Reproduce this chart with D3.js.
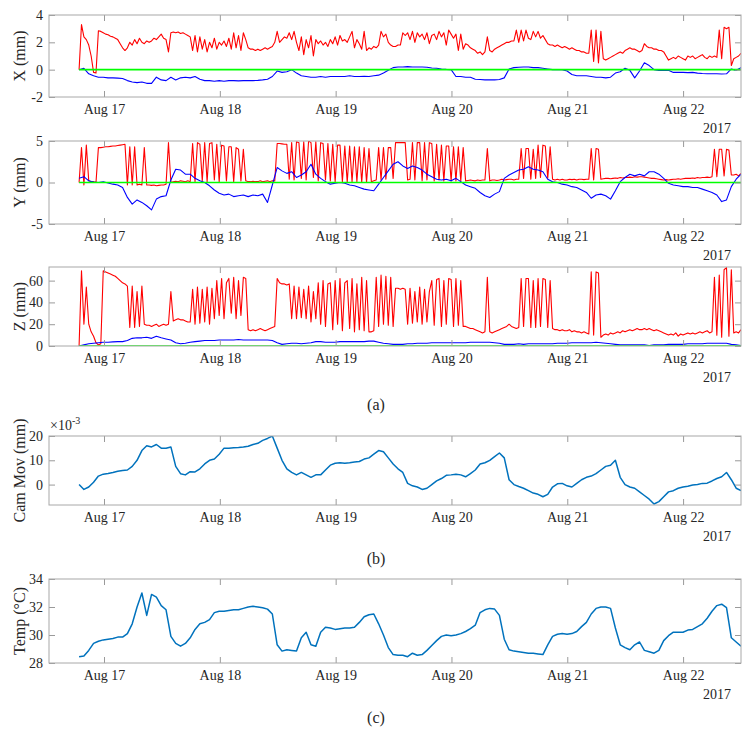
<!DOCTYPE html>
<html>
<head>
<meta charset="utf-8" />
<script src="https://cdn.jsdelivr.net/npm/d3@7"></script>
<style>
  body { margin: 0; background: #fff; }
  text { font-family: "Liberation Serif", "DejaVu Serif", serif; fill: #262626; }
</style>
</head>
<body>
<script>
// ---- data ----
// red/blue/green traces of (a) : red at 30 min steps, blue at 1 h steps,
// all running from Aug 16 18:50 to Aug 22 12:00
var xRed = [0.0, 3.3, 2.4, 2.2, 1.8, 1.0, -0.2, -0.25, 2.85, 2.8,
  2.7, 2.6, 2.55, 2.45, 2.4, 2.3, 2.2, 1.9, 1.6, 1.4,
  1.6, 2.0, 1.8, 2.2, 1.9, 2.3, 2.0, 1.9, 2.1, 2.0,
  2.1, 2.3, 2.2, 2.4, 2.6, 2.3, 2.2, 1.3, 2.7, 2.75,
  2.7, 2.75, 2.65, 2.7, 2.6, 2.5, 2.4, 1.4, 2.5, 1.3,
  2.4, 1.5, 2.2, 1.3, 2.0, 1.6, 2.3, 1.5, 2.0, 1.8, 2.1, 1.7, 2.3, 1.5, 2.7, 1.6, 2.5, 1.4, 2.7, 2.2,
  1.6, 1.5, 1.5, 1.4, 1.5, 1.4, 1.5, 1.6, 1.5, 1.6,
  1.7, 2.0, 2.8, 2.0, 2.2, 2.4, 2.3, 2.7, 2.2, 2.8,
  2.0, 1.4, 2.4, 1.1, 2.2, 1.6, 2.5, 1.0, 2.2, 1.9, 2.1, 1.8, 2.0, 1.7, 2.2, 1.9, 2.4, 1.8, 2.5, 2.1,
  2.2, 2.0, 2.4, 2.8, 1.6, 2.2, 1.9, 1.5, 2.8, 1.4, 1.6, 1.5, 1.7, 1.6,
  1.8, 2.8, 2.4, 2.6, 2.0, 1.8, 1.7, 1.7, 1.8, 1.8, 2.7, 2.5,
  2.7, 2.2, 2.8, 2.0, 2.7, 2.4, 2.6, 2.2, 2.7, 1.9, 2.5, 2.6, 2.2, 2.8, 2.4, 2.7, 1.8, 2.9, 2.6, 2.3,
  2.6, 1.4, 2.6, 1.5, 1.9, 1.8, 1.6, 1.5, 1.4, 1.2, 1.3, 1.1, 1.3, 2.4,
  1.4, 1.3, 1.5, 1.6, 1.7, 1.8, 1.9, 2.0, 2.0, 2.1,
  2.1, 2.9, 2.0, 2.9, 2.1, 2.9, 2.3, 2.2, 2.8, 2.4, 2.8, 2.3, 2.5, 2.2,
  1.9, 1.8, 1.8, 1.7, 1.8, 1.7, 1.6, 1.7, 1.6, 1.5, 1.6, 1.5, 1.4, 1.4, 1.3, 1.3, 1.2, 1.2,
  2.9, 0.6, 2.9, 0.5, 2.8, 0.8,
  0.7, 0.8, 0.9, 1.0, 1.1, 1.2, 1.3, 1.2, 1.4, 1.5, 1.6, 1.5, 1.5, 1.4, 1.3, 1.4,
  1.9, 1.7, 1.6, 1.6, 1.5, 1.5, 1.4, 1.4, 1.3, 1.0, 0.7,
  0.8, 0.9, 0.8, 1.0, 0.9, 0.8, 0.7, 1.0, 0.9, 1.0, 0.8, 0.9, 1.0, 1.1, 0.9, 0.8, 1.0, 0.9, 1.0, 0.9,
  2.9, 0.8, 3.1, 3.0, 3.1, 0.3,
  0.8, 0.9, 1.0, 1.2];

var xBlue = [0.0, 0.1, -0.3, -0.45, -0.55, -0.55, -0.6, -0.6, -0.62, -0.65,
  -0.8, -0.9, -0.95, -0.9, -1.0, -1.0, -0.55, -0.75, -0.8, -0.55,
  -0.75, -0.6, -0.55, -0.6, -0.5, -0.7, -0.8, -0.8, -0.85, -0.8,
  -0.85, -0.8, -0.8, -0.82, -0.8, -0.8, -0.8, -0.78, -0.75, -0.7,
  -0.5, -0.1, -0.2, -0.15, 0.0, -0.25, -0.45, -0.5, -0.55, -0.55,
  -0.5, -0.55, -0.5, -0.5, -0.5, -0.5, -0.45, -0.5, -0.5, -0.48,
  -0.5, -0.45, -0.4, -0.25, -0.05, 0.15, 0.2, 0.2, 0.22, 0.2,
  0.2, 0.2, 0.18, 0.12, 0.1, 0.05, 0.02, 0.0, -0.5, -0.5,
  -0.55, -0.55, -0.7, -0.72, -0.75, -0.75, -0.75, -0.72, -0.6, 0.05,
  0.15, 0.18, 0.2, 0.2, 0.15, 0.15, 0.1, 0.05, 0.0, 0.0,
  0.0, -0.1, -0.35, -0.45, -0.45, -0.45, -0.5, -0.55, -0.55, -0.6,
  -0.55, -0.25, -0.15, 0.1, -0.05, -0.6, -0.1, 0.5, 0.3, 0.0,
  -0.05, -0.05, -0.05, -0.2, -0.2, -0.2, -0.22, -0.2, -0.25, -0.28,
  -0.3, -0.3, -0.3, -0.32, -0.3, 0.05, -0.05, 0.15];

var yRed = [0.0, 4.2, -0.3, 4.5, 0.2, 0.1, 0.1, 0.0,
  4.2, 4.2, 4.25, 4.3, 4.3, 4.35, 4.4, 4.4, 4.45, 4.5, 4.55, 4.6,
  -0.3, 4.3, -0.3, 4.3, -0.3, -0.2, -0.3, 4.2, -0.3,
  -0.3, -0.35, -0.3, -0.4, -0.35, -0.3, -0.3, -0.2,
  4.8,
  0.0, 0.1, 0.15, 0.1, 0.2, 0.15, 0.1, 0.2, 0.1,
  4.7, 0.1, 4.8, 4.6, 0.2, 4.8, 0.1, 4.7, 4.8, 0.3, 4.6, 0.1, 4.5, 4.4, 0.2, 4.3, 4.3, 0.1, 4.2, 4.0, 0.2, 4.0, 0.2,
  0.1, 0.1, 0.15, 0.1, 0.1, 0.2, 0.1, 0.15, 0.2, 0.1, 0.2, 0.2,
  4.7, 4.7, 4.65, 4.6,
  4.6, 0.4, 4.8, 0.3, 4.9, 4.8, 0.5, 4.9, 0.3, 5.0, 4.8, 0.6, 4.9, 0.2, 4.8, 4.7, 0.3, 4.7, 0.2, 4.6,
  0.1, 4.5, 4.5, 0.1, 4.4, 0.0, 4.4, 0.1, 4.3, 0.1, 4.3, 0.0, 4.2, 0.0, 4.1,
  0.1, 0.2,
  0.3, 4.2, 0.3, 4.2, 0.4, 4.2, 4.2, 0.5,
  4.8, 4.8, 4.8, 4.8, 4.8,
  0.3, 0.4, 4.8, 0.3, 4.8, 4.8, 0.2, 4.8, 0.3, 4.8, 4.7, 0.2, 4.6, 0.3, 4.5, 0.2, 4.4, 4.4, 0.2, 4.3, 0.2, 4.3, 0.2, 4.2,
  0.2, 0.25, 0.3, 0.25, 0.2, 0.3, 0.25, 0.3, 0.3,
  4.1,
  0.2, 0.3, 0.3, 0.25, 0.3, 0.4, 0.3, 0.35, 0.4, 0.4, 0.3, 0.4, 0.4,
  4.1, 0.5, 4.1, 4.1, 0.4, 4.0,
  0.5, 4.5, 0.6, 4.5, 4.4, 0.5, 4.3,
  0.4, 0.3, 0.4, 0.3, 0.4, 0.3, 0.3, 0.4, 0.35, 0.4, 0.3, 0.4, 0.4, 0.35, 0.4, 0.4,
  4.1, 0.3, 4.1, 4.0,
  0.4, 0.45, 0.5, 0.5, 0.45, 0.5, 0.55, 0.5, 0.6, 0.55, 0.6, 0.6, 0.65, 0.6, 0.7, 0.65, 0.7, 0.7, 0.65, 0.6,
  0.55, 0.5, 0.5, 0.45, 0.4, 0.35, 0.3, 0.35, 0.3, 0.35, 0.4, 0.4, 0.45, 0.4, 0.45, 0.5, 0.5, 0.5, 0.55, 0.5,
  0.6, 0.55, 0.6, 0.6, 0.65, 0.6, 0.7,
  4.0, 0.7, 4.0, 4.0, 0.8, 4.0, 3.9, 0.9,
  0.9, 1.0, 0.8, 1.1];

var yBlue = [0.5, 0.7, 0.2, 0.05, 0.0, 0.1, -0.05, -0.2, -0.3, -0.6,
  -1.8, -2.6, -2.1, -2.4, -2.8, -3.3, -2.0, -1.7, -1.6, 0.3,
  1.6, 1.5, 1.0, 1.0, 0.5, 0.2, 0.0, -0.4, -0.9, -1.3,
  -1.5, -1.4, -1.7, -1.6, -1.5, -1.7, -1.5, -1.6, -1.4, -2.4,
  -0.3, 1.8, 1.4, 1.1, 1.3, 0.6, 0.9, 1.3, 2.2, 1.0,
  0.5, 0.1, -0.2, -0.1, 0.0, -0.1, -0.3, -0.4, -0.6, -0.8,
  -0.9, -1.0, -0.2, 0.6, 1.4, 2.2, 2.5, 2.0, 1.7, 2.0,
  1.8, 1.5, 1.0, 0.7, 0.4, 0.3, 0.4, 0.2, 0.5, 0.1,
  -0.3, -0.5, -0.7, -1.2, -1.6, -1.8, -1.4, -1.1, 0.5, 0.9,
  1.2, 1.5, 1.6, 1.9, 1.6, 1.5, 1.3, 0.4, 0.1, 0.0,
  -0.2, -0.3, -0.5, -0.6, -0.9, -1.2, -1.9, -1.5, -1.4, -1.6,
  -2.0, -1.0, 0.1, 0.6, 1.0, 0.8, 1.0, 0.8, 1.3, 1.3,
  1.0, 0.5, -0.1, -0.3, -0.4, -0.5, -0.5, -0.6, -0.6, -0.8,
  -1.0, -1.2, -1.5, -2.3, -2.1, -0.5, 0.4, 1.0];

var zRed = [0, 69, 20, 54, 20, 13, 9, 3, 1, 2,
  69, 68, 67, 66, 65, 64, 62, 60, 58, 57, 55,
  17, 55, 17, 50, 18, 55, 20, 19,
  19, 18, 19, 20, 18, 19, 20, 19, 20,
  50,
  23, 24, 25, 24, 24, 23, 22, 22,
  52, 20, 54, 21, 52, 22, 54, 20, 53,
  25, 60, 28, 62, 25, 58, 62, 30, 63, 25, 60, 28, 63, 62,
  15, 14, 15, 14, 15, 16, 15, 14, 15, 16, 17, 18,
  62, 58, 57, 57, 56, 57,
  25, 55, 25, 54, 26, 52, 25, 55, 22, 50, 25,
  58, 20, 60, 18, 57, 58, 15, 60, 20, 62, 14, 58, 60, 16, 62, 13, 57, 15, 63, 14, 60, 13, 13,
  14,
  63, 18, 65, 20, 64, 19, 63, 18, 53,
  53, 52, 53, 52,
  20, 53, 21, 50, 22, 54, 20, 52, 22, 50,
  60, 19, 61, 62, 18, 60, 20, 62, 61, 18, 62, 19, 60, 18,
  18, 17, 16, 16, 15, 14, 13, 12, 13,
  63,
  13, 12, 13, 14, 15, 16, 17, 18, 20, 18, 17, 16, 17,
  62, 18, 62, 62, 17, 60,
  17, 62, 18, 62, 61, 17, 60,
  16, 15, 15, 14, 15, 14, 14, 15, 13, 14, 13, 13, 12, 13, 12, 11,
  68, 10, 68, 67,
  8, 10, 11, 10, 12, 11, 12, 13, 12, 14, 13, 14, 15, 14, 15, 16, 15, 15, 16, 15,
  16, 15, 14, 15, 14, 13, 12, 11, 10, 11, 10, 12, 9, 11, 10, 11, 12, 11, 12, 11,
  12, 13, 12, 13, 14, 12, 13,
  63, 10, 65, 8, 70, 72, 9, 70,
  12, 13, 12, 15];

var zBlue = [0, 1, 2, 2.5, 3, 3.5, 3.5, 3.8, 4, 4, 5, 7, 7.5, 7.5, 8, 7, 9, 7.5, 6.5, 5.5,
  3, 2, 2.5, 3.5, 4, 4.5, 5, 5, 5, 5.5, 5.5, 5.5, 5.5, 6, 5.5, 5.5, 5.5, 5.5, 5.5, 5.5,
  5, 3, 1.5, 2, 2.5, 2.5, 2, 2.5, 3, 4, 4, 3.5, 3.5, 3.5, 4, 4, 4, 4, 4, 4,
  4.5, 4.5, 3.5, 2.5, 2, 1.5, 1.5, 1.5, 2, 2, 2.5, 2.5, 2.5, 3, 3, 3, 3, 3, 3, 3,
  3, 3.5, 3.5, 3.5, 3.5, 3.5, 3, 2.5, 1.5, 1.5, 1.5, 2, 1.5, 2, 2, 2, 2, 2, 2, 2.5,
  2.5, 2.5, 3, 3, 3, 3, 3, 3.5, 3, 2.5, 2, 1.5, 1, 1, 1, 1, 1, 1, 0.5, 1,
  1, 1, 1.5, 1.5, 1.5, 1.5, 2, 2, 2, 2, 2.5, 2.5, 2.5, 2.5, 2.5, 1.5, 1, 0.5];

// the flat reference trace (green) of each panel in (a)
var zeroRef = [0, 0];

// (b) camera movement, x10^-3 mm, hourly
var camMov = [0, -2, -1, 1, 3.5, 4.3, 4.6, 5, 5.5, 5.8,
  6, 7.5, 10, 14, 16, 15.5, 16.5, 15, 15, 15.5,
  7.5, 4.5, 4, 5.3, 5.2, 6.5, 8.5, 10, 10.5, 12.5,
  15, 15, 15.2, 15.3, 15.5, 15.8, 16.5, 17, 18.2, 19,
  20, 15, 10, 6.5, 5, 4, 5, 4, 3, 4,
  4, 6, 8, 8.8, 9, 8.8, 9, 9.3, 9.5, 10.5,
  11, 12.5, 14, 13.5, 11, 8.5, 6.5, 5, 0.5, -0.5,
  -1, -2, -1.5, 0, 1.5, 2.5, 3.8, 4, 4.3, 4,
  3.2, 4.5, 6, 8.5, 9, 10, 11.5, 13, 11, 2,
  0, -0.8, -1.5, -2.5, -3.5, -4, -5, -4, -1, 0.3,
  0.5, -0.5, -1, 0.5, 2, 3, 3.5, 4.5, 6, 7.5,
  8, 10, 3, 0, -1, -1.5, -3, -4.5, -6, -8,
  -7, -5, -3, -2.5, -1.5, -1, -0.7, -0.2, 0, 0.5,
  0.6, 1.5, 2.5, 3.2, 5, 2, -1.5, -2.5];

// (c) temperature, deg C, hourly
var temp = [28.45, 28.5, 28.9, 29.4, 29.55, 29.65, 29.7, 29.75, 29.85, 29.85,
  30.1, 30.8, 32.0, 33.0, 31.4, 32.9, 32.7, 32.1, 31.8, 29.9,
  29.4, 29.2, 29.4, 29.8, 30.4, 30.8, 30.9, 31.1, 31.6, 31.7,
  31.7, 31.75, 31.8, 31.8, 31.9, 32.0, 32.05, 32.0, 31.95, 31.85,
  31.5, 29.3, 28.85, 28.95, 28.9, 28.85, 29.8, 30.2, 29.3, 29.2,
  30.2, 30.55, 30.5, 30.4, 30.45, 30.5, 30.5, 30.55, 30.9, 31.3,
  31.45, 31.5, 30.8, 30.0, 29.1, 28.6, 28.55, 28.55, 28.45, 28.7,
  28.55, 28.6, 28.9, 29.25, 29.6, 29.9, 30.0, 29.95, 30.0, 30.1,
  30.25, 30.45, 30.7, 31.6, 31.8, 31.9, 31.85, 31.4, 29.7, 28.95,
  28.85, 28.8, 28.75, 28.7, 28.7, 28.65, 28.6, 29.3, 29.9, 30.05,
  30.1, 30.05, 30.1, 30.25, 30.6, 30.9, 31.5, 31.9, 32.0, 32.0,
  31.9, 30.5, 29.3, 29.1, 28.95, 29.3, 29.5, 28.9, 28.8, 28.7,
  28.9, 29.6, 29.95, 30.2, 30.2, 30.2, 30.35, 30.4, 30.6, 30.8,
  31.2, 31.7, 32.1, 32.2, 31.95, 29.8, 29.5, 29.2];

var dayTicks = [17, 18, 19, 20, 21, 22];

// ---- drawing ----
var svg = d3.select("body").append("svg")
  .attr("width", 752)
  .attr("height", 737);

var left = 49, right = 741;
var x = d3.scaleTime()
  .domain([new Date(2017, 7, 16, 12, 36), new Date(2017, 7, 22, 12, 0)])
  .range([left, right]);

// every trace is spread evenly over the recorded span
var dataStart = new Date(2017, 7, 16, 18, 50).getTime();
var dataEnd = new Date(2017, 7, 22, 12, 0).getTime();
function timeOf(i, n) { return new Date(dataStart + i * (dataEnd - dataStart) / (n - 1)); }

var panels = [
  { top: 15, bottom: 97, domain: [-2, 4], ticks: [-2, 0, 2, 4], label: "X (mm)",
    lines: [[xRed, "#ff0000", 1.1], [xBlue, "#0000ff", 1.1], [zeroRef, "#00ff00", 1.6]] },
  { top: 141, bottom: 224, domain: [-5, 5], ticks: [-5, 0, 5], label: "Y (mm)",
    lines: [[yRed, "#ff0000", 1.1], [yBlue, "#0000ff", 1.1], [zeroRef, "#00ff00", 1.6]] },
  { top: 267, bottom: 346, domain: [0, 72.5], ticks: [0, 20, 40, 60], label: "Z (mm)",
    lines: [[zRed, "#ff0000", 1.1], [zBlue, "#0000ff", 1.1], [zeroRef, "#00ff00", 1.6]] },
  { top: 436, bottom: 505, domain: [-8.4, 20], ticks: [0, 10, 20], label: "Cam Mov (mm)",
    lines: [[camMov, "#0072bd", 1.5]], exponent: true },
  { top: 579, bottom: 663, domain: [28, 34], ticks: [28, 30, 32, 34], label: "Temp (\u00b0C)",
    lines: [[temp, "#0072bd", 1.5]] }
];

var dayDates = dayTicks.map(function (d) { return new Date(2017, 7, d); });

panels.forEach(function (p, k) {
  var y = d3.scaleLinear().domain(p.domain).range([p.bottom, p.top]);
  var g = svg.append("g");

  // clip the traces to the box
  g.append("clipPath").attr("id", "clip" + k)
    .append("rect")
    .attr("x", left).attr("y", p.top)
    .attr("width", right - left).attr("height", p.bottom - p.top);

  var plot = g.append("g").attr("clip-path", "url(#clip" + k + ")");
  p.lines.forEach(function (l) {
    var vals = l[0];
    var line = d3.line()
      .x(function (d, i) { return x(timeOf(i, vals.length)); })
      .y(function (d) { return y(d); });
    plot.append("path")
      .datum(vals)
      .attr("d", line)
      .attr("fill", "none")
      .attr("stroke", l[1])
      .attr("stroke-width", l[2])
      .attr("stroke-linejoin", "round");
  });

  // MATLAB style box with inward ticks on all four sides
  var bottomAxis = d3.axisBottom(x).tickValues(dayDates)
    .tickFormat(d3.timeFormat("%b %d"))
    .tickSizeInner(-6).tickSizeOuter(0).tickPadding(7);
  var topAxis = d3.axisTop(x).tickValues(dayDates).tickFormat("")
    .tickSizeInner(-6).tickSizeOuter(0);
  var leftAxis = d3.axisLeft(y).tickValues(p.ticks)
    .tickFormat(function (d) { return String(d); })
    .tickSizeInner(-6).tickSizeOuter(0).tickPadding(6);
  var rightAxis = d3.axisRight(y).tickValues(p.ticks).tickFormat("")
    .tickSizeInner(-6).tickSizeOuter(0);

  var axes = [
    g.append("g").attr("transform", "translate(0," + p.bottom + ")").call(bottomAxis),
    g.append("g").attr("transform", "translate(0," + p.top + ")").call(topAxis),
    g.append("g").attr("transform", "translate(" + left + ",0)").call(leftAxis),
    g.append("g").attr("transform", "translate(" + right + ",0)").call(rightAxis)
  ];
  axes.forEach(function (a) {
    a.select(".domain").remove();
    a.selectAll("line").attr("stroke", "#9a9a9a");
    a.selectAll("text").attr("font-size", 14)
      .attr("font-family", "Liberation Serif, DejaVu Serif, serif")
      .attr("fill", "#262626");
  });

  g.append("rect")
    .attr("x", left).attr("y", p.top)
    .attr("width", right - left).attr("height", p.bottom - p.top)
    .attr("fill", "none").attr("stroke", "#a8a8a8").attr("stroke-width", 1);

  // y label
  g.append("text")
    .attr("transform", "translate(19," + ((p.top + p.bottom) / 2) + ") rotate(-90)")
    .attr("text-anchor", "middle")
    .attr("dy", "0.35em")
    .attr("font-size", 16)
    .text(p.label);

  // year under the last tick
  g.append("text")
    .attr("x", 731).attr("y", p.bottom + 36)
    .attr("text-anchor", "end")
    .attr("font-size", 14)
    .text("2017");

  if (p.exponent) {
    var e = g.append("text").attr("x", 50).attr("y", p.top - 6).attr("font-size", 14);
    e.append("tspan").text("\u00d710");
    e.append("tspan").attr("dy", -6).attr("font-size", 10).text("-3");
  }
});

// sub-figure letters
[["(a)", 410], ["(b)", 564], ["(c)", 723]].forEach(function (d) {
  svg.append("text")
    .attr("x", 376).attr("y", d[1])
    .attr("text-anchor", "middle")
    .attr("font-size", 16)
    .text(d[0]);
});
</script>
</body>
</html>
